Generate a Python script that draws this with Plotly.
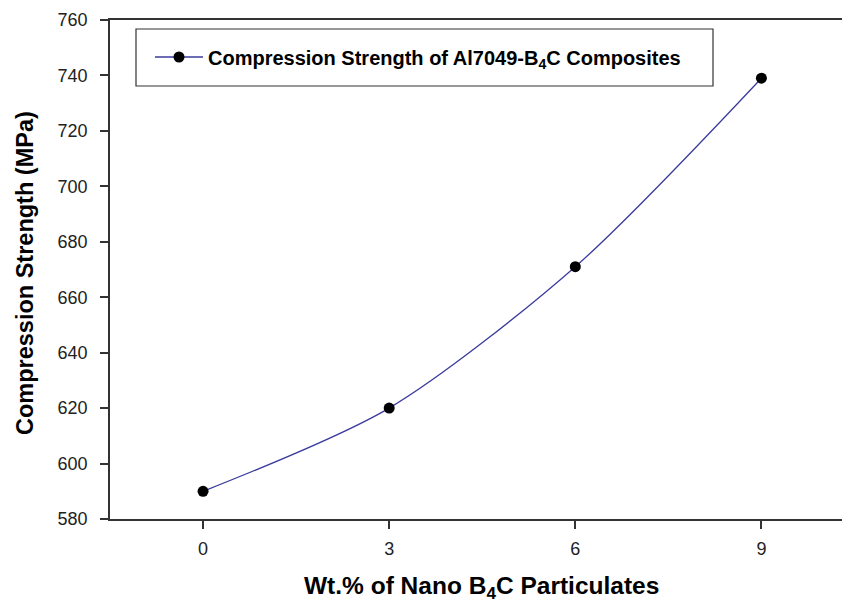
import plotly.graph_objects as go

wt_percent = [0, 3, 6, 9]
strength = [590, 620, 671, 739]
x_ticks = [0, 3, 6, 9]
y_ticks = [580, 600, 620, 640, 660, 680, 700, 720, 740, 760]
series_name = "Compression Strength of Al7049-B<sub>4</sub>C Composites"
x_title = "Wt.% of Nano B<sub>4</sub>C Particulates"
y_title = "Compression Strength (MPa)"

# figure slightly larger than the 842x604 viewport so the plot frame runs off the right edge
W, H = 852, 612
L, T, R = 110, 20, 0
B = H - 519
pw, ph = W - L - R, H - T - B


def px(xp):  # page x -> paper
    return (xp - L) / pw


def py(yp):  # page y -> paper
    return (H - B - yp) / ph


fig = go.Figure()
fig.add_trace(go.Scatter(
    x=wt_percent, y=strength, mode="lines+markers", name=series_name,
    line=dict(color="#3b3b9e", width=1.3, shape="spline", smoothing=0.8),
    marker=dict(color="black", size=11, symbol="circle"),
))

font_family = "Liberation Sans, Arial, sans-serif"
fig.update_layout(
    width=W, height=H,
    margin=dict(l=L, r=R, t=T, b=B, autoexpand=False),
    plot_bgcolor="white", paper_bgcolor="white",
    font=dict(family=font_family, color="black", size=18),
    showlegend=True,
    legend=dict(
        x=px(150), y=py(57), xanchor="left", yanchor="middle",
        bgcolor="rgba(0,0,0,0)", borderwidth=0,
        font=dict(size=20, family=font_family, color="black", weight="bold"),
        itemwidth=48,
    ),
    shapes=[
        dict(type="rect", xref="paper", yref="paper",
             x0=px(136), x1=px(713), y0=py(86), y1=py(29),
             line=dict(color="#333333", width=1.2), fillcolor="rgba(0,0,0,0)"),
    ],
    annotations=[
        dict(text=x_title, xref="paper", yref="paper", x=px(481), y=py(605),
             xanchor="center", yanchor="bottom", showarrow=False,
             font=dict(size=24.5, weight="bold", color="black")),
        dict(text=y_title, xref="paper", yref="paper", x=px(25), y=py(273),
             xanchor="center", yanchor="middle", showarrow=False, textangle=-90,
             font=dict(size=23.5, weight="bold", color="black")),
    ],
)

fig.update_xaxes(
    range=[-1.5, 10.46], tickvals=x_ticks, ticktext=[str(v) for v in x_ticks],
    showgrid=False, zeroline=False,
    showline=True, linecolor="#333333", linewidth=1.5, mirror=True,
    ticks="outside", ticklen=8, tickwidth=1.5, tickcolor="#333333",
    ticklabelstandoff=5,
    tickfont=dict(size=18, color="#222222"),
)
fig.update_yaxes(
    range=[580, 760], tickvals=y_ticks,
    showgrid=False, zeroline=False,
    showline=True, linecolor="#333333", linewidth=1.5, mirror=False,
    ticks="outside", ticklen=8, tickwidth=1.5, tickcolor="#333333",
    ticklabelstandoff=9,
    tickfont=dict(size=18, color="#222222"),
)

fig.write_html(
    "out.html",
    config={"displayModeBar": False},
    post_script="document.body.style.margin='0px';document.body.style.overflow='hidden';",
)
